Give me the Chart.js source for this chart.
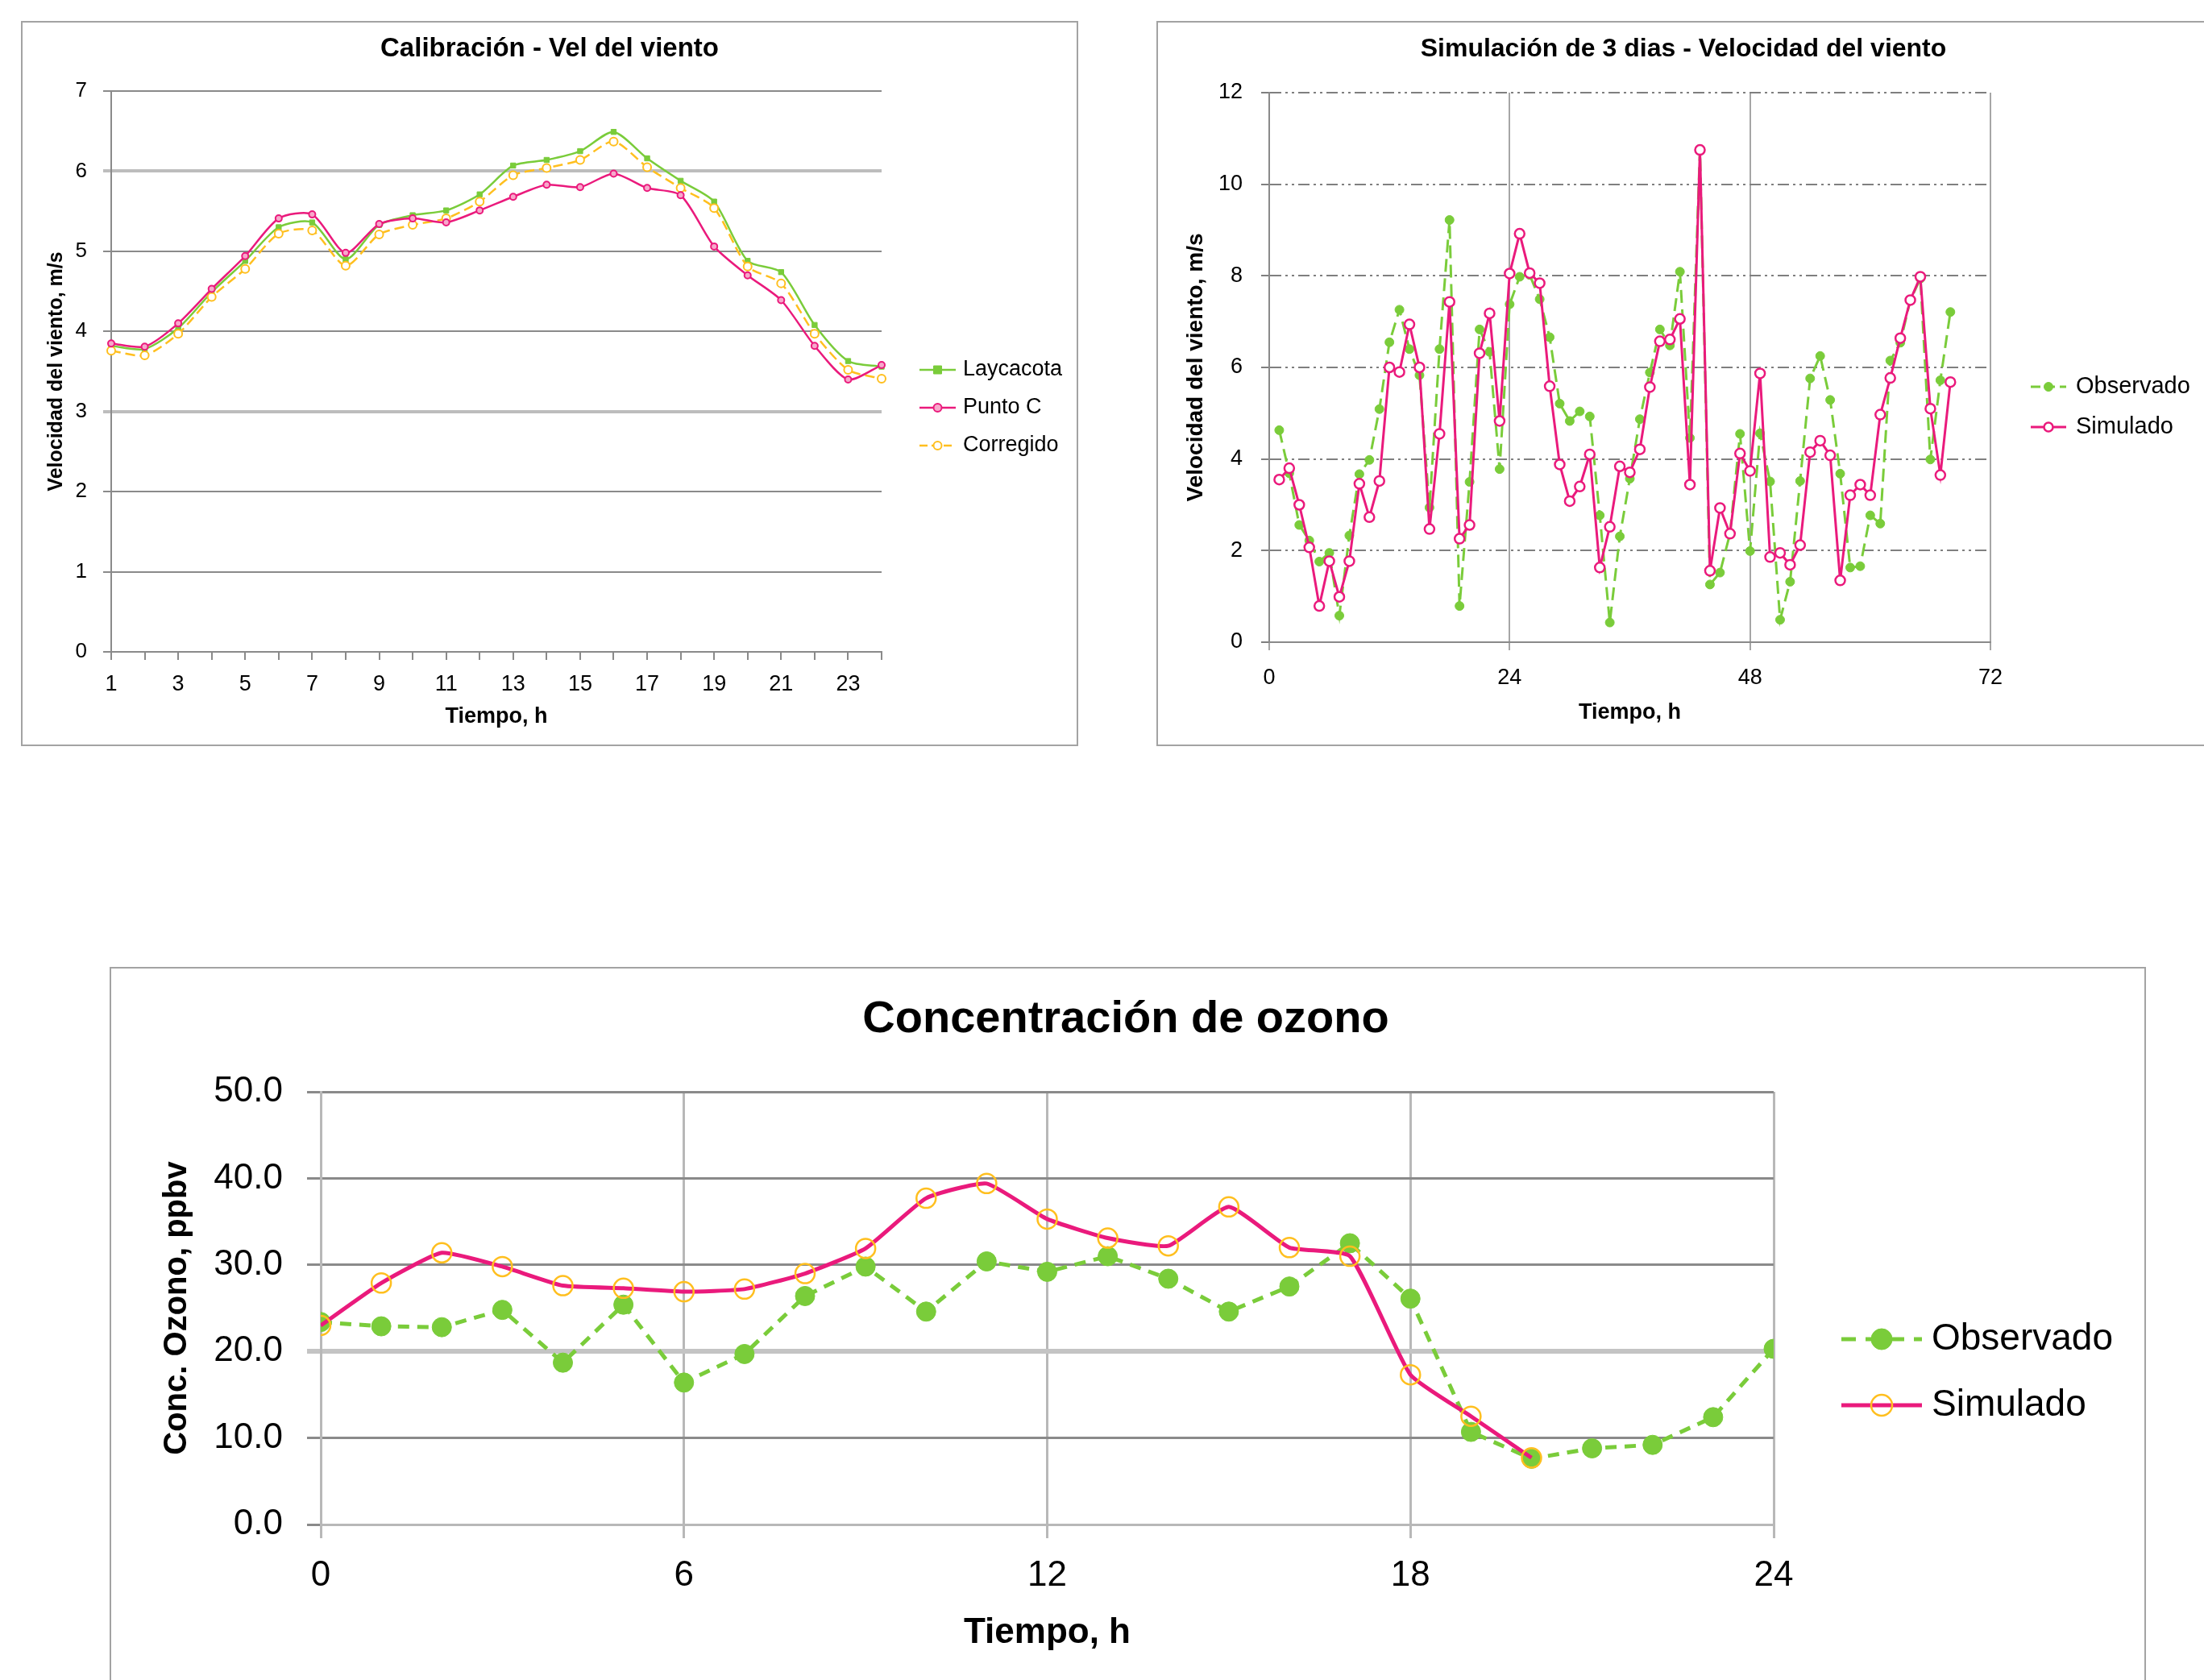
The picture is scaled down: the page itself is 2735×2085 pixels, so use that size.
<!DOCTYPE html>
<html lang="es">
<head>
<meta charset="utf-8">
<title>Resultados</title>
<script src="https://cdn.jsdelivr.net/npm/chart.js@4.4.1/dist/chart.umd.min.js"></script>
<style>
    html, body { margin: 0; padding: 0; background: #fff; }
    body { width: 2735px; height: 2085px; position: relative; overflow: hidden; }
    .marco { position: absolute; box-sizing: border-box; border: 2px solid #a3a3a3; background: #fff; }
    .marco canvas { position: absolute; left: 0; top: 0; }
</style>
</head>
<body>

<div class="marco" style="left:26px;top:26px;width:1312px;height:900px;">
    <canvas id="calibracion" width="1308" height="896"></canvas>
</div>
<div class="marco" style="left:1435px;top:26px;width:1320px;height:900px;">
    <canvas id="simulacion" width="1298" height="896"></canvas>
</div>
<div class="marco" style="left:136px;top:1200px;width:2527px;height:900px;">
    <canvas id="ozono" width="2523" height="883"></canvas>
</div>

<script>
// Calibración - Vel del viento (m/s por hora)
const horasCal = ['1','2','3','4','5','6','7','8','9','10','11','12','13','14','15','16','17','18','19','20','21','22','23','24'];
const laycacota = [3.82, 3.78, 4.04, 4.49, 4.88, 5.30, 5.36, 4.90, 5.33, 5.45, 5.51, 5.71, 6.07, 6.14, 6.25, 6.49, 6.16, 5.88, 5.62, 4.88, 4.74, 4.08, 3.63, 3.56];
const puntoC = [3.85, 3.81, 4.10, 4.53, 4.94, 5.41, 5.46, 4.98, 5.34, 5.41, 5.36, 5.51, 5.68, 5.83, 5.80, 5.97, 5.79, 5.70, 5.06, 4.70, 4.39, 3.82, 3.40, 3.58];
const corregido = [3.76, 3.70, 3.97, 4.43, 4.78, 5.22, 5.26, 4.82, 5.21, 5.33, 5.41, 5.62, 5.95, 6.04, 6.14, 6.37, 6.05, 5.79, 5.54, 4.81, 4.60, 3.97, 3.52, 3.41];

// Simulación de 3 dias
const horas3d = [1, 2, 3, 4, 5, 6, 7, 8, 9, 10, 11, 12, 13, 14, 15, 16, 17, 18, 19, 20, 21, 22, 23, 24,
    25, 26, 27, 28, 29, 30, 31, 32, 33, 34, 35, 36, 37, 38, 39, 40, 41, 42, 43, 44, 45, 46, 47, 48,
    49, 50, 51, 52, 53, 54, 55, 56, 57, 58, 59, 60, 61, 62, 63, 64, 65, 66, 67, 68];
const observado3d = [4.63, 3.69, 2.56, 2.22, 1.76, 1.95, 0.58, 2.33, 3.67, 3.98, 5.09, 6.55, 7.26, 6.40, 5.83, 2.94, 6.40, 9.22, 0.79, 3.50,
    6.83, 6.34, 3.78, 7.38, 7.98, 8.02, 7.49, 6.66, 5.21, 4.83, 5.04, 4.93, 2.77, 0.43, 2.31, 3.57, 4.87, 5.89, 6.83, 6.48,
    8.09, 4.46, 10.75, 1.26, 1.52, 2.37, 4.55, 1.99, 4.56, 3.51, 0.49, 1.32, 3.52, 5.76, 6.25, 5.29, 3.68, 1.63, 1.66, 2.77,
    2.59, 6.15, 6.54, 7.47, 7.94, 3.99, 5.72, 7.21];
const simulado3d = [3.55, 3.80, 3.00, 2.07, 0.79, 1.77, 0.99, 1.77, 3.46, 2.73, 3.52, 6.00, 5.90, 6.94, 6.00, 2.47, 4.55, 7.43, 2.26, 2.56,
    6.31, 7.18, 4.83, 8.05, 8.92, 8.06, 7.84, 5.59, 3.88, 3.08, 3.40, 4.10, 1.63, 2.52, 3.84, 3.71, 4.21, 5.57, 6.57, 6.61,
    7.06, 3.44, 10.75, 1.56, 2.93, 2.37, 4.12, 3.74, 5.87, 1.86, 1.95, 1.69, 2.12, 4.15, 4.40, 4.08, 1.35, 3.21, 3.44, 3.21,
    4.97, 5.77, 6.64, 7.47, 7.98, 5.10, 3.65, 5.68];

// Concentración de ozono (ppbv)
const horasOzono = [0, 1, 2, 3, 4, 5, 6, 7, 8, 9, 10, 11, 12, 13, 14, 15, 16, 17, 18, 19, 20, 21, 22, 23, 24];
const ozonoObs = [23.4, 22.9, 22.8, 24.8, 18.7, 25.4, 16.4, 19.7, 26.4, 29.8, 24.6, 30.4, 29.2, 31.0, 28.4, 24.6, 27.5, 32.5, 26.1, 10.7, 7.6, 8.8, 9.2, 12.4, 20.3];
const ozonoSim = [23.0, 27.9, 31.4, 29.8, 27.6, 27.3, 26.9, 27.2, 29.0, 31.9, 37.7, 39.4, 35.3, 33.1, 32.2, 36.7, 32.0, 31.0, 17.3, 12.5, 7.7];

const VERDE = '#7acc3a';
const ROSA = '#ea1a7c';
const NARANJA = '#ffbf1f';
const GRIS = '#8a8a8a';
const FUENTE = "'Liberation Sans Narrow', 'Liberation Sans', Arial, sans-serif";

Chart.defaults.font.family = FUENTE;
Chart.defaults.color = '#000';

function aPuntos(xs, ys) {
    return ys.map(function(v, i) { return {x: xs[i], y: v}; });
}

function dibujarMarcador(ctx, ds, x, y, r) {
    ctx.beginPath();
    if (ds.pointStyle === 'rect') {
        ctx.rect(x - r, y - r, 2 * r, 2 * r);
    } else {
        ctx.arc(x, y, r, 0, Math.PI * 2);
    }
    ctx.fillStyle = ds.pointBackgroundColor;
    ctx.fill();
    ctx.lineWidth = ds.pointBorderWidth;
    ctx.strokeStyle = ds.pointBorderColor;
    ctx.stroke();
}

// titulo centrado en el marco + leyenda con linea y marcador
const tituloYLeyenda = {
    id: 'tituloYLeyenda',
    afterDraw(chart, args, opts) {
        const ctx = chart.ctx;
        ctx.save();
        const t = opts.titulo;
        ctx.font = t.font;
        ctx.fillStyle = '#000';
        ctx.textAlign = 'center';
        ctx.textBaseline = 'middle';
        ctx.fillText(t.text, t.x, t.y);

        const lg = opts.leyenda;
        chart.data.datasets.forEach(function(ds, i) {
            const y = lg.y + i * lg.gap;
            ctx.strokeStyle = ds.borderColor;
            ctx.lineWidth = ds.borderWidth;
            ctx.setLineDash(lg.dash && ds.borderDash ? lg.dash : []);
            ctx.beginPath();
            ctx.moveTo(lg.x, y);
            ctx.lineTo(lg.x + lg.largo, y);
            ctx.stroke();
            ctx.setLineDash([]);
            dibujarMarcador(ctx, ds, lg.x + lg.largo / 2, y, lg.radio);
            ctx.fillStyle = '#000';
            ctx.font = lg.font;
            ctx.textAlign = 'left';
            ctx.textBaseline = 'middle';
            ctx.fillText(ds.label, lg.x + lg.largo + lg.sep, y);
        });
        ctx.restore();
    }
};

// ---- Calibración ----
new Chart(document.getElementById('calibracion'), {
    type: 'line',
    data: {
        labels: horasCal,
        datasets: [{
            label: 'Laycacota',
            data: laycacota,
            borderColor: VERDE, borderWidth: 2.5, tension: 0.25,
            pointStyle: 'rect', pointRadius: 4.5,
            pointBackgroundColor: VERDE, pointBorderColor: VERDE, pointBorderWidth: 1,
            order: 2
        }, {
            label: 'Punto C',
            data: puntoC,
            borderColor: ROSA, borderWidth: 2.5, tension: 0.25,
            pointStyle: 'circle', pointRadius: 4,
            pointBackgroundColor: '#f7a8cb', pointBorderColor: ROSA, pointBorderWidth: 2,
            order: 0
        }, {
            label: 'Corregido',
            data: corregido,
            borderColor: NARANJA, borderWidth: 2.5, borderDash: [12, 6], tension: 0.25,
            pointStyle: 'circle', pointRadius: 5,
            pointBackgroundColor: '#fff', pointBorderColor: NARANJA, pointBorderWidth: 2,
            order: 1
        }]
    },
    options: {
        responsive: false,
        animation: false,
        layout: { padding: { top: 85, right: 242, left: 0, bottom: 0 } },
        plugins: {
            legend: { display: false },
            tooltip: { enabled: false },
            tituloYLeyenda: {
                titulo: { text: 'Calibración - Vel del viento', x: 654, y: 33, font: 'bold 33px ' + FUENTE },
                leyenda: { x: 1113, y: 431, gap: 47, largo: 45, sep: 9, radio: 5, dash: [10, 5], font: '27px ' + FUENTE }
            }
        },
        scales: {
            x: {
                type: 'category',
                offset: false,
                afterFit: function(s) { s.height = 115; },
                grid: { drawOnChartArea: false, tickLength: 10, color: GRIS, lineWidth: 2 },
                border: { color: GRIS, width: 2 },
                ticks: {
                    autoSkip: false, maxRotation: 0, padding: 14,
                    font: { size: 27 },
                    callback: function(val, index) {
                        return index % 2 === 0 ? this.getLabelForValue(val) : '';
                    }
                },
                title: { display: true, text: 'Tiempo, h', font: { size: 27, weight: 'bold' }, padding: { top: 0, bottom: 18 } }
            },
            y: {
                min: 0, max: 7,
                afterFit: function(s) { s.width = 110; },
                grid: {
                    tickLength: 10,
                    color: function(c) { return (c.tick && (c.tick.value === 3 || c.tick.value === 6)) ? '#bdbdbd' : GRIS; },
                    lineWidth: function(c) { return (c.tick && (c.tick.value === 3 || c.tick.value === 6)) ? 4 : 2; }
                },
                border: { color: GRIS, width: 2 },
                ticks: { stepSize: 1, padding: 20, font: { size: 26 } },
                title: { display: true, text: 'Velocidad del viento, m/s', font: { size: 25, weight: 'bold' }, padding: { top: 27, bottom: 0 } }
            }
        }
    },
    plugins: [tituloYLeyenda]
});

// ---- Simulación de 3 dias ----
new Chart(document.getElementById('simulacion'), {
    type: 'line',
    data: {
        datasets: [{
            label: 'Observado',
            data: aPuntos(horas3d, observado3d),
            borderColor: VERDE, borderWidth: 3, borderDash: [16, 8],
            pointRadius: 5.5,
            pointBackgroundColor: VERDE, pointBorderColor: VERDE, pointBorderWidth: 1,
            order: 1
        }, {
            label: 'Simulado',
            data: aPuntos(horas3d, simulado3d),
            borderColor: ROSA, borderWidth: 3,
            pointRadius: 6,
            pointBackgroundColor: '#fff', pointBorderColor: ROSA, pointBorderWidth: 2.5,
            order: 0
        }]
    },
    options: {
        responsive: false,
        animation: false,
        layout: { padding: { top: 87, right: 265, left: 0, bottom: 0 } },
        plugins: {
            legend: { display: false },
            tooltip: { enabled: false },
            tituloYLeyenda: {
                titulo: { text: 'Simulación de 3 dias - Velocidad del viento', x: 652, y: 33, font: 'bold 32px ' + FUENTE },
                leyenda: { x: 1083, y: 452, gap: 50, largo: 44, sep: 12, radio: 5.5, dash: [12, 6], font: '29px ' + FUENTE }
            }
        },
        scales: {
            x: {
                type: 'linear',
                min: 0, max: 72,
                afterFit: function(s) { s.height = 127; },
                grid: { color: '#a6a6a6', lineWidth: 2, tickLength: 10 },
                border: { color: GRIS, width: 2 },
                ticks: { stepSize: 24, padding: 18, font: { size: 27 } },
                title: { display: true, text: 'Tiempo, h', font: { size: 27, weight: 'bold' }, padding: { top: 0, bottom: 23 } }
            },
            y: {
                min: 0, max: 12,
                afterFit: function(s) { s.width = 138; },
                grid: { color: '#7f7f7f', lineWidth: 2, tickLength: 10 },
                border: { color: GRIS, width: 2, dash: [14, 5, 3, 5, 3, 5] },
                ticks: { stepSize: 2, padding: 23, font: { size: 27 } },
                title: { display: true, text: 'Velocidad del viento, m/s', font: { size: 28, weight: 'bold' }, padding: { top: 30, bottom: 0 } }
            }
        }
    },
    plugins: [tituloYLeyenda]
});

// ---- Concentración de ozono ----
new Chart(document.getElementById('ozono'), {
    type: 'line',
    data: {
        datasets: [{
            label: 'Observado',
            data: aPuntos(horasOzono, ozonoObs),
            borderColor: VERDE, borderWidth: 5, borderDash: [14, 10],
            pointRadius: 12,
            pointBackgroundColor: VERDE, pointBorderColor: VERDE, pointBorderWidth: 1,
            order: 1
        }, {
            label: 'Simulado',
            data: aPuntos(horasOzono, ozonoSim),
            borderColor: ROSA, borderWidth: 5, tension: 0.15,
            pointRadius: 12,
            pointBackgroundColor: 'rgba(0,0,0,0)', pointBorderColor: NARANJA, pointBorderWidth: 2.5,
            order: 0
        }]
    },
    options: {
        responsive: false,
        animation: false,
        layout: { padding: { top: 153, right: 460, left: 0, bottom: 0 } },
        plugins: {
            legend: { display: false },
            tooltip: { enabled: false },
            tituloYLeyenda: {
                titulo: { text: 'Concentración de ozono', x: 1259, y: 64, font: 'bold 56px ' + FUENTE },
                leyenda: { x: 2147, y: 460, gap: 82, largo: 100, sep: 12, radio: 13, dash: [18, 12], font: '46px ' + FUENTE }
            }
        },
        scales: {
            x: {
                type: 'linear',
                min: 0, max: 24,
                afterFit: function(s) { s.height = 193; },
                grid: { color: '#b8b8b8', lineWidth: 3, tickLength: 17 },
                border: { color: '#b8b8b8', width: 3 },
                ticks: { stepSize: 6, padding: 20, font: { size: 44 } },
                title: { display: true, text: 'Tiempo, h', font: { size: 44, weight: 'bold' }, padding: { top: 0, bottom: 32 } }
            },
            y: {
                min: 0, max: 50,
                afterFit: function(s) { s.width = 260; },
                grid: {
                    tickLength: 17,
                    color: function(c) { return (c.tick && c.tick.value === 20) ? '#c4c4c4' : GRIS; },
                    lineWidth: function(c) { return (c.tick && c.tick.value === 20) ? 6 : 3; }
                },
                border: { color: '#b8b8b8', width: 3 },
                ticks: {
                    stepSize: 10, padding: 30, font: { size: 44 },
                    callback: function(value) { return value.toFixed(1); }
                },
                title: { display: true, text: 'Conc. Ozono, ppbv', font: { size: 40, weight: 'bold' }, padding: { top: 58, bottom: 0 } }
            }
        }
    },
    plugins: [tituloYLeyenda]
});
</script>
</body>
</html>
